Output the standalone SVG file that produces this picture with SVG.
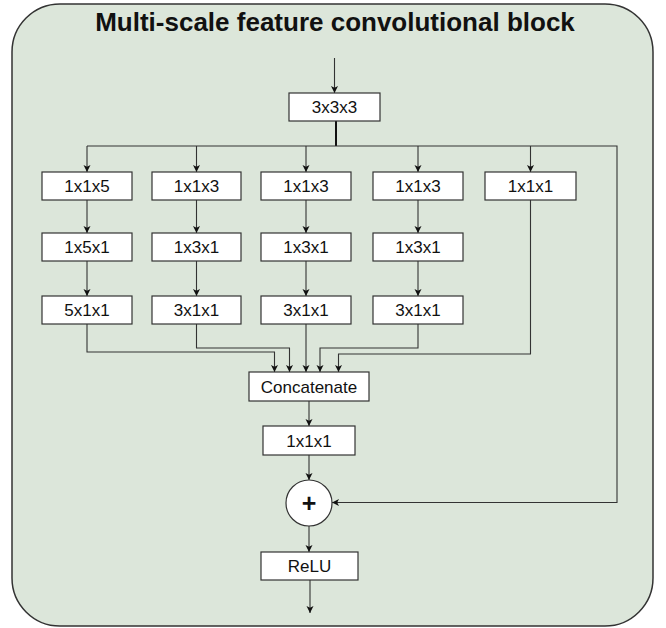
<svg xmlns="http://www.w3.org/2000/svg" width="666" height="628" viewBox="0 0 666 628">
<style>
.box{fill:#ffffff;stroke:#333333;stroke-width:1.2}
.lbl{font-family:"Liberation Sans",Arial,sans-serif;font-size:17px;fill:#111111;text-anchor:middle}
.title{font-family:"Liberation Sans",Arial,sans-serif;font-size:26px;font-weight:bold;fill:#111111;text-anchor:middle}
.c{fill:none;stroke:#333333;stroke-width:1.1}
</style>
<defs>
<marker id="ah" markerUnits="userSpaceOnUse" markerWidth="8" markerHeight="8" refX="7" refY="3.5" orient="auto">
<path d="M0,0 L7,3.5 L0,7 L1.8,3.5 z" fill="#111111"/>
</marker>
</defs>
<g id="container">
<rect x="12" y="4" width="641" height="622" rx="48" ry="48" fill="#dce6da" stroke="#333333" stroke-width="1.5"/>
<text class="title" x="335" y="31">Multi-scale feature convolutional block</text>
</g>
<g id="connectors">
<line class="c" x1="334.5" y1="58" x2="334.5" y2="93" marker-end="url(#ah)"/>
<line x1="336" y1="121" x2="336" y2="146" stroke="#111111" stroke-width="2"/>
<polyline class="c" points="87,146 617,146 617,502.5 332,502.5" marker-end="url(#ah)"/>
<line class="c" x1="87" y1="146" x2="87" y2="172" marker-end="url(#ah)"/>
<line class="c" x1="196.5" y1="146" x2="196.5" y2="172" marker-end="url(#ah)"/>
<line class="c" x1="306" y1="146" x2="306" y2="172" marker-end="url(#ah)"/>
<line class="c" x1="418" y1="146" x2="418" y2="172" marker-end="url(#ah)"/>
<line class="c" x1="530.5" y1="146" x2="530.5" y2="172" marker-end="url(#ah)"/>
<line class="c" x1="87" y1="200" x2="87" y2="233" marker-end="url(#ah)"/>
<line class="c" x1="196.5" y1="200" x2="196.5" y2="233" marker-end="url(#ah)"/>
<line class="c" x1="306" y1="200" x2="306" y2="233" marker-end="url(#ah)"/>
<line class="c" x1="418" y1="200" x2="418" y2="233" marker-end="url(#ah)"/>
<line class="c" x1="87" y1="261" x2="87" y2="296" marker-end="url(#ah)"/>
<line class="c" x1="196.5" y1="261" x2="196.5" y2="296" marker-end="url(#ah)"/>
<line class="c" x1="306" y1="261" x2="306" y2="296" marker-end="url(#ah)"/>
<line class="c" x1="418" y1="261" x2="418" y2="296" marker-end="url(#ah)"/>
<polyline class="c" points="87,324 87,352 274.5,352 274.5,372" marker-end="url(#ah)"/>
<polyline class="c" points="196.5,324 196.5,348 289.5,348 289.5,372" marker-end="url(#ah)"/>
<line class="c" x1="306" y1="324" x2="306" y2="372" marker-end="url(#ah)"/>
<polyline class="c" points="418,324 418,348 320,348 320,372" marker-end="url(#ah)"/>
<polyline class="c" points="530.5,200 530.5,354 338.5,354 338.5,372" marker-end="url(#ah)"/>
<line class="c" x1="309" y1="401" x2="309" y2="426" marker-end="url(#ah)"/>
<line class="c" x1="309" y1="455" x2="309" y2="480" marker-end="url(#ah)"/>
<line class="c" x1="309" y1="526" x2="309" y2="552" marker-end="url(#ah)"/>
<line class="c" x1="310" y1="580" x2="310" y2="613" marker-end="url(#ah)"/>
</g>
<g id="n333"><rect class="box" x="289" y="93" width="91" height="28"/><text class="lbl" x="334.5" y="113">3x3x3</text></g>
<g id="c1r1"><rect class="box" x="42" y="172" width="90" height="28"/><text class="lbl" x="87" y="192">1x1x5</text></g>
<g id="c2r1"><rect class="box" x="152" y="172" width="89" height="28"/><text class="lbl" x="196.5" y="192">1x1x3</text></g>
<g id="c3r1"><rect class="box" x="261" y="172" width="90" height="28"/><text class="lbl" x="306" y="192">1x1x3</text></g>
<g id="c4r1"><rect class="box" x="373" y="172" width="90" height="28"/><text class="lbl" x="418" y="192">1x1x3</text></g>
<g id="c5r1"><rect class="box" x="485" y="172" width="91" height="28"/><text class="lbl" x="530.5" y="192">1x1x1</text></g>
<g id="c1r2"><rect class="box" x="42" y="233" width="90" height="28"/><text class="lbl" x="87" y="253">1x5x1</text></g>
<g id="c2r2"><rect class="box" x="152" y="233" width="89" height="28"/><text class="lbl" x="196.5" y="253">1x3x1</text></g>
<g id="c3r2"><rect class="box" x="261" y="233" width="90" height="28"/><text class="lbl" x="306" y="253">1x3x1</text></g>
<g id="c4r2"><rect class="box" x="373" y="233" width="90" height="28"/><text class="lbl" x="418" y="253">1x3x1</text></g>
<g id="c1r3"><rect class="box" x="42" y="296" width="90" height="28"/><text class="lbl" x="87" y="316">5x1x1</text></g>
<g id="c2r3"><rect class="box" x="152" y="296" width="89" height="28"/><text class="lbl" x="196.5" y="316">3x1x1</text></g>
<g id="c3r3"><rect class="box" x="261" y="296" width="90" height="28"/><text class="lbl" x="306" y="316">3x1x1</text></g>
<g id="c4r3"><rect class="box" x="373" y="296" width="90" height="28"/><text class="lbl" x="418" y="316">3x1x1</text></g>
<g id="concat"><rect class="box" x="249" y="372" width="120" height="29"/><text class="lbl" x="309" y="392.5">Concatenate</text></g>
<g id="conv111"><rect class="box" x="263" y="426" width="92" height="29"/><text class="lbl" x="309" y="446.5">1x1x1</text></g>
<g id="add"><circle cx="309" cy="503" r="23" fill="#ffffff" stroke="#333333" stroke-width="1.2"/><text x="309" y="511.5" font-family="Liberation Sans,Arial,sans-serif" font-size="25" font-weight="bold" fill="#111111" text-anchor="middle">+</text></g>
<g id="relu"><rect class="box" x="261" y="552" width="97" height="28"/><text class="lbl" x="309.5" y="572">ReLU</text></g>
</svg>
